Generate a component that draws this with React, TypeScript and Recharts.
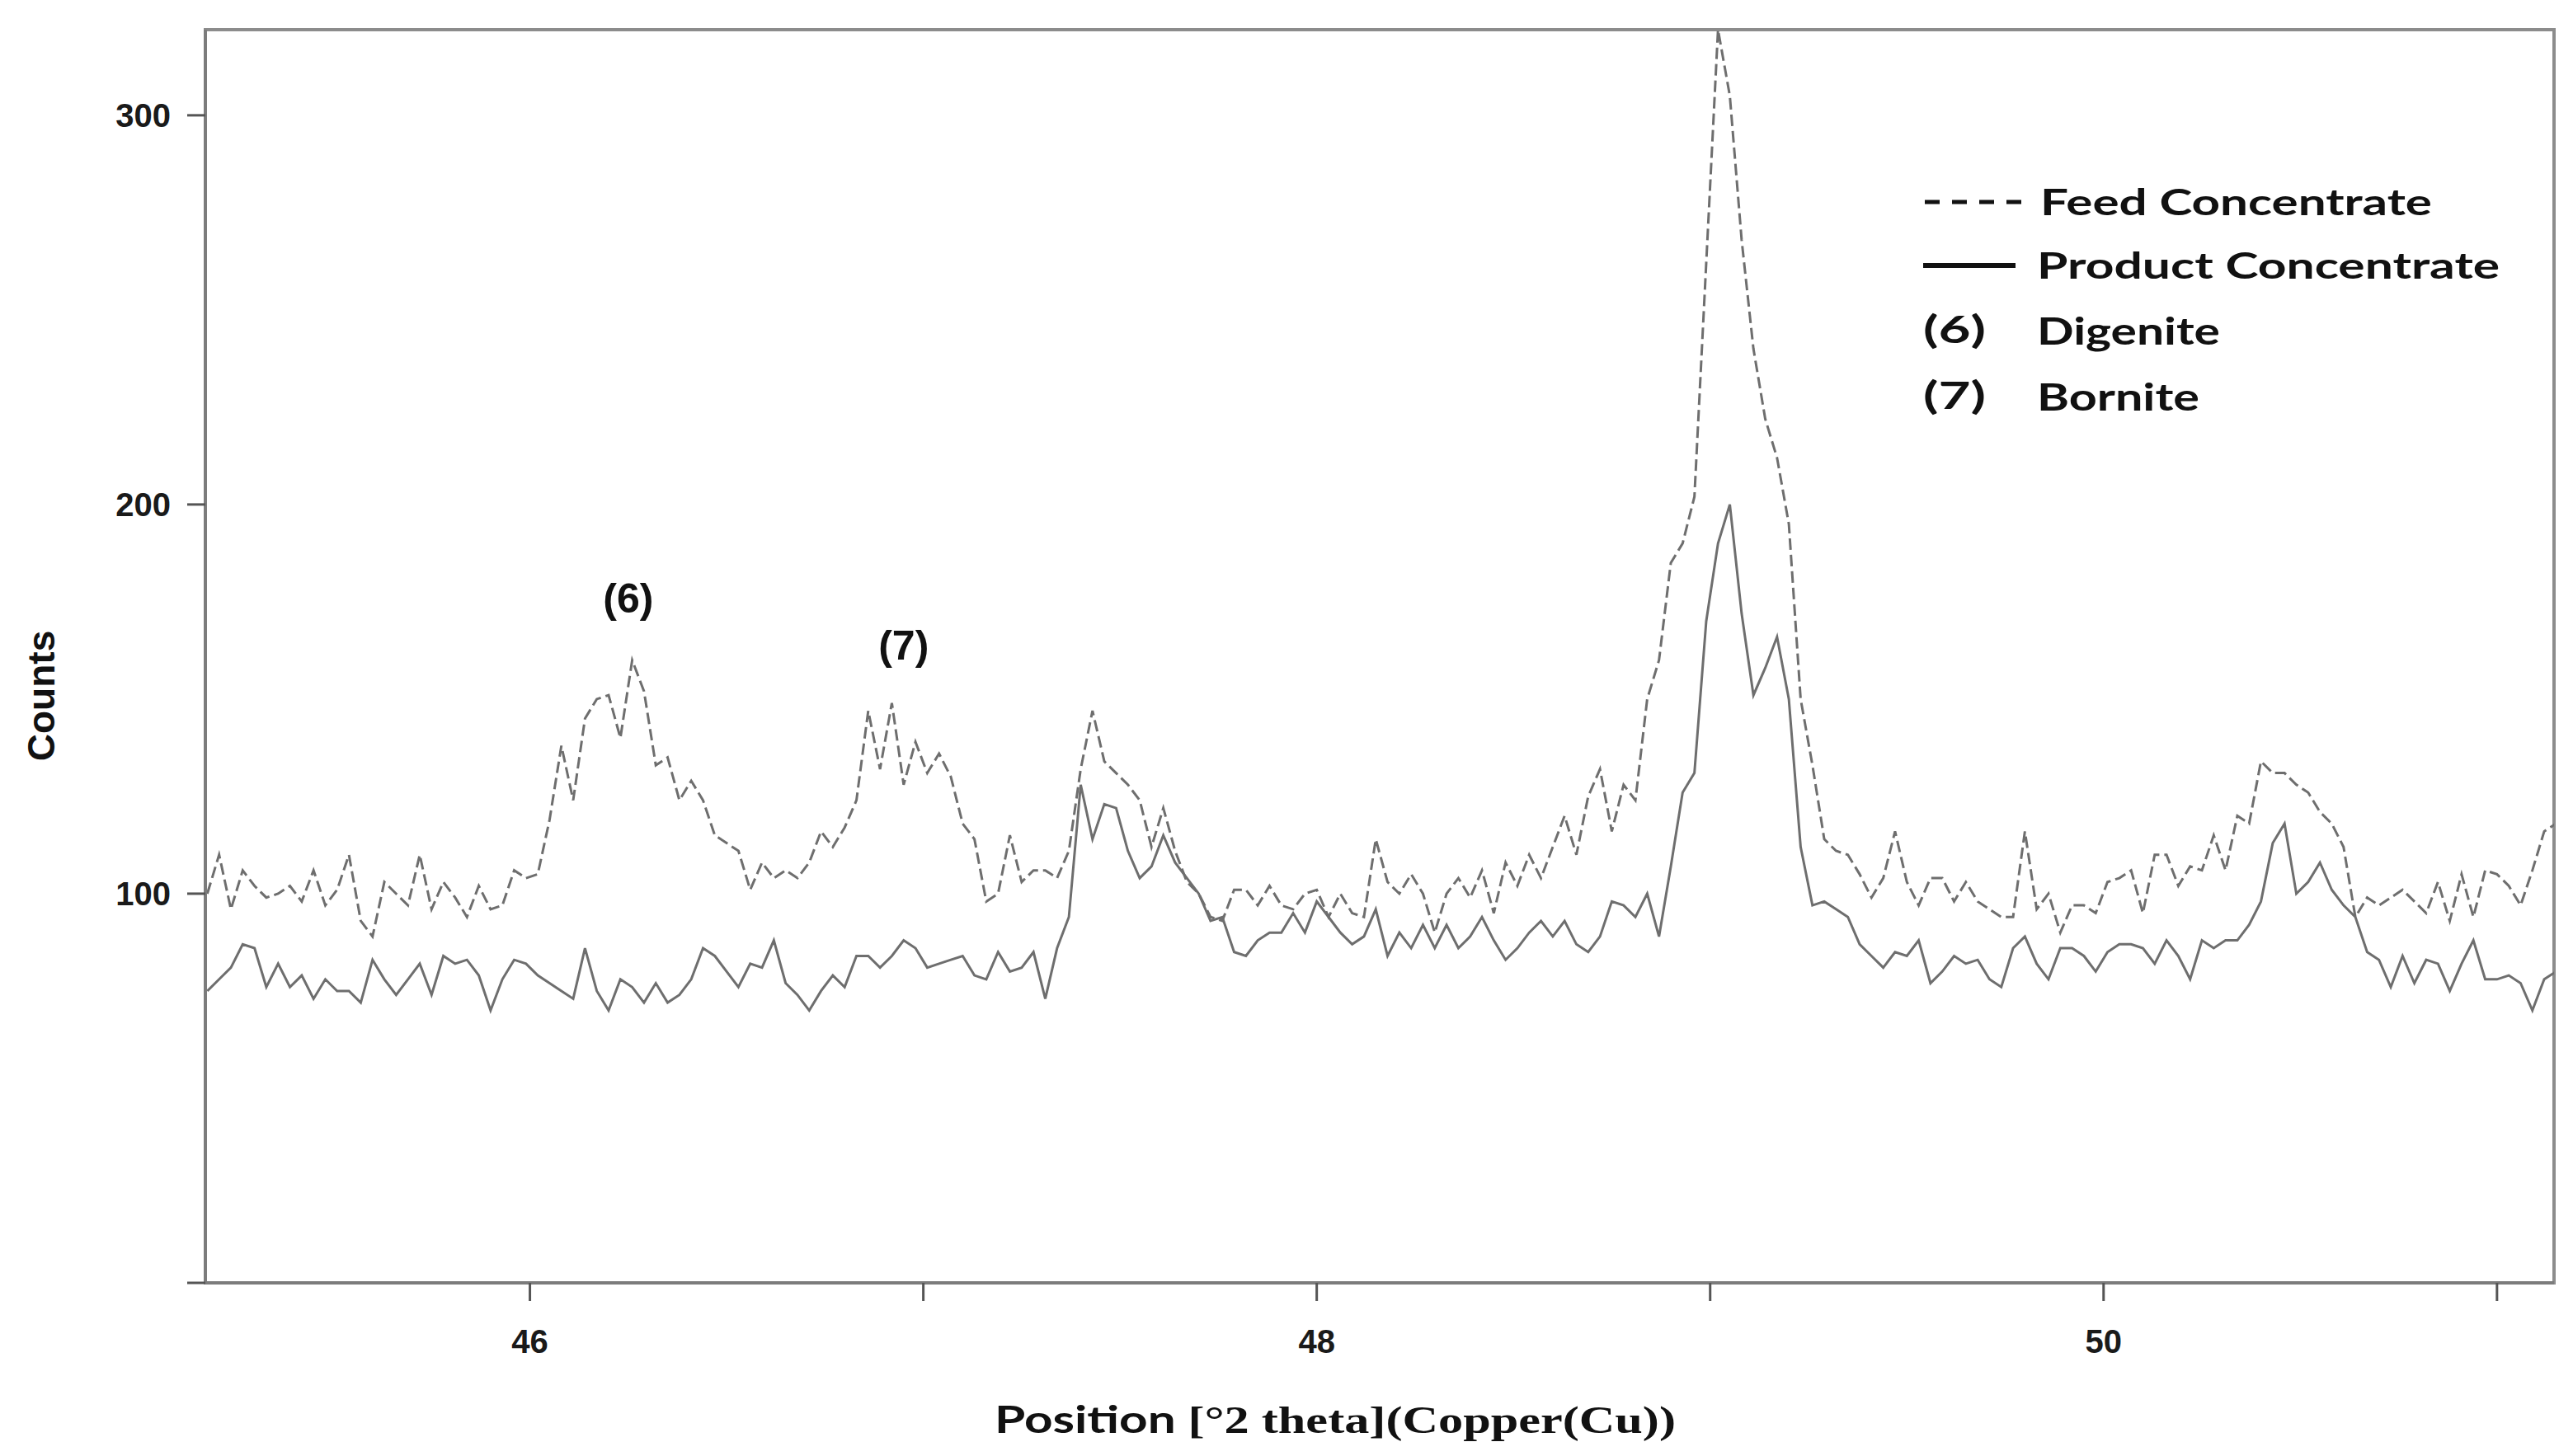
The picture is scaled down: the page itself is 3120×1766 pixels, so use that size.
import React from "react";
import {
  LineChart,
  Line,
  XAxis,
  YAxis,
  Legend,
  Label,
  ReferenceArea,
  ReferenceDot,
} from "recharts";

// scan settings: start angle and step size in degrees 2-theta
const START_ANGLE = 45.18;
const STEP = 0.03;

const feedCounts = [
  100, 110, 96, 106, 102, 99, 100, 102, 98, 106,
  97, 101, 110, 93, 89, 103, 100, 97, 110, 96,
  103, 99, 94, 102, 96, 97, 106, 104, 105, 119,
  138, 124, 145, 150, 151, 140, 160, 152, 133, 135,
  124, 129, 124, 115, 113, 111, 101, 108, 104, 106,
  104, 108, 116, 112, 117, 124, 147, 132, 149, 128,
  139, 131, 136, 130, 118, 114, 98, 100, 115, 103,
  106, 106, 104, 111, 132, 147, 134, 131, 128, 124,
  112, 122, 111, 103, 100, 94, 93, 101, 101, 97,
  102, 97, 96, 100, 101, 94, 100, 95, 94, 114,
  103, 100, 105, 100, 90, 100, 104, 99, 106, 95,
  108, 102, 110, 104, 112, 120, 110, 125, 132, 116,
  128, 124, 150, 160, 185, 190, 202, 262, 322, 305,
  268, 240, 222, 212, 195, 150, 133, 114, 111, 110,
  105, 99, 104, 116, 103, 97, 104, 104, 98, 103,
  98, 96, 94, 94, 116, 96, 100, 90, 97, 97,
  95, 103, 104, 106, 95, 110, 110, 102, 107, 106,
  115, 106, 120, 118, 134, 131, 131, 128, 126, 121,
  118, 112, 94, 99, 97, 99, 101, 98, 95, 103,
  93, 105, 94, 106, 105, 102, 97, 106, 116, 118,
];

const productCounts = [
  75, 78, 81, 87, 86, 76, 82, 76, 79, 73,
  78, 75, 75, 72, 83, 78, 74, 78, 82, 74,
  84, 82, 83, 79, 70, 78, 83, 82, 79, 77,
  75, 73, 86, 75, 70, 78, 76, 72, 77, 72,
  74, 78, 86, 84, 80, 76, 82, 81, 88, 77,
  74, 70, 75, 79, 76, 84, 84, 81, 84, 88,
  86, 81, 82, 83, 84, 79, 78, 85, 80, 81,
  85, 73, 86, 94, 128, 114, 123, 122, 111, 104,
  107, 115, 108, 104, 100, 93, 94, 85, 84, 88,
  90, 90, 95, 90, 98, 94, 90, 87, 89, 96,
  84, 90, 86, 92, 86, 92, 86, 89, 94, 88,
  83, 86, 90, 93, 89, 93, 87, 85, 89, 98,
  97, 94, 100, 89, 107, 126, 131, 170, 190, 200,
  172, 151, 158, 166, 150, 112, 97, 98, 96, 94,
  87, 84, 81, 85, 84, 88, 77, 80, 84, 82,
  83, 78, 76, 86, 89, 82, 78, 86, 86, 84,
  80, 85, 87, 87, 86, 82, 88, 84, 78, 88,
  86, 88, 88, 92, 98, 113, 118, 100, 103, 108,
  101, 97, 94, 85, 83, 76, 84, 77, 83, 82,
  75, 82, 88, 78, 78, 79, 77, 70, 78, 80,
];

const xTicks = [46, 47, 48, 49, 50, 51];
const yTicks = [0, 100, 200, 300];

const peakLabels = [
  { text: "(6)", angle: 46.25, count: 176 },
  { text: "(7)", angle: 46.95, count: 164 },
];

const phaseNotes = [
  { code: "(6)", name: "Digenite", width: 222 },
  { code: "(7)", name: "Bornite", width: 197 },
];

const rows = feedCounts.map((feed, i) => ({
  angle: Number((START_ANGLE + i * STEP).toFixed(2)),
  feed,
  product: productCounts[i],
}));

const LINE_GREY = "#6e6e6e";
const AXIS_GREY = "#7c7c7c";
const legendFont = "Lato, 'Open Sans', sans-serif";

const renderLegend = () => (
  <svg width={790} height={330}>
    <line x1={14} x2={140} y1={55} y2={55} stroke="#111" strokeWidth={5} strokeDasharray="18 15" />
    <text x={154} y={71} fontFamily={legendFont} fontWeight={700} fontSize={44} fill="#111"
      textLength={475} lengthAdjust="spacingAndGlyphs">Feed Concentrate</text>
    <line x1={12} x2={124} y1={132} y2={132} stroke="#111" strokeWidth={6} />
    <text x={150} y={148} fontFamily={legendFont} fontWeight={700} fontSize={44} fill="#111"
      textLength={561} lengthAdjust="spacingAndGlyphs">Product Concentrate</text>
    {phaseNotes.map((p, k) => (
      <g key={p.code}>
        <text x={12} y={226 + k * 80} fontFamily={legendFont} fontWeight={700} fontSize={46} fill="#111"
          textLength={76} lengthAdjust="spacingAndGlyphs">{p.code}</text>
        <text x={150} y={228 + k * 80} fontFamily={legendFont} fontWeight={700} fontSize={46} fill="#111"
          textLength={p.width} lengthAdjust="spacingAndGlyphs">{p.name}</text>
      </g>
    ))}
  </svg>
);

const tickFont = {
  fill: "#1a1a1a",
  fontSize: 40,
  fontWeight: 700,
  fontFamily: "'Liberation Sans Narrow', 'Liberation Sans', Arial, sans-serif",
};

export default function App() {
  return (
    <div style={{ position: "absolute", left: 0, top: 0, width: 3120, height: 1766, background: "#fff" }}>
      <LineChart
        width={3120}
        height={1766}
        data={rows}
        margin={{ top: 36, right: 23, bottom: 150, left: 149 }}
      >
        <ReferenceArea
          x1={45.175}
          x2={51.145}
          y1={0}
          y2={322}
          fill="none"
          stroke="#8c8c8c"
          strokeWidth={4}
        />
        <XAxis
          dataKey="angle"
          type="number"
          domain={[45.175, 51.145]}
          ticks={xTicks}
          allowDataOverflow
          height={60}
          tickSize={22}
          tickMargin={35}
          tickFormatter={(v: number) => (v % 2 === 0 ? String(v) : "")}
          tick={tickFont}
          tickLine={{ stroke: "#555", strokeWidth: 3 }}
          axisLine={{ stroke: AXIS_GREY, strokeWidth: 4 }}
        >
          <Label
            content={({ viewBox }: any) => (
              <text
                x={viewBox.x + viewBox.width / 2 - 54}
                y={1738}
                textAnchor="middle"
                fontSize={46}
                fontWeight={700}
                fill="#111"
                textLength={826}
                lengthAdjust="spacingAndGlyphs"
              >
                <tspan fontFamily="Lato, 'Open Sans', sans-serif">Position </tspan>
                <tspan fontFamily="'Liberation Serif', 'DejaVu Serif', serif">[°2 theta](Copper(Cu))</tspan>
              </text>
            )}
          />
        </XAxis>
        <YAxis
          type="number"
          domain={[0, 322]}
          ticks={yTicks}
          allowDataOverflow
          width={100}
          tickSize={22}
          tickMargin={20}
          tickFormatter={(v: number) => (v === 0 ? "" : String(v))}
          tick={tickFont}
          tickLine={{ stroke: "#555", strokeWidth: 3 }}
          axisLine={{ stroke: AXIS_GREY, strokeWidth: 4 }}
        >
          <Label
            content={({ viewBox }: any) => (
              <text
                x={viewBox.x - 99}
                y={844}
                transform={`rotate(-90 ${viewBox.x - 99} 844)`}
                textAnchor="middle"
                dominantBaseline="central"
                fontSize={46}
                fontWeight={700}
                fontFamily="'Liberation Sans', Arial, sans-serif"
                fill="#111"
              >
                Counts
              </text>
            )}
          />
        </YAxis>
        <Legend
          layout="vertical"
          align="center"
          verticalAlign="middle"
          content={renderLegend}
          wrapperStyle={{ position: "absolute", left: 2320, top: 190, width: 790, height: 330 }}
        />
        <Line
          dataKey="feed"
          name="Feed Concentrate"
          stroke={LINE_GREY}
          strokeWidth={3}
          strokeDasharray="14 6"
          dot={false}
          isAnimationActive={false}
        />
        <Line
          dataKey="product"
          name="Product Concentrate"
          stroke={LINE_GREY}
          strokeWidth={3}
          dot={false}
          isAnimationActive={false}
        />
        {peakLabels.map((p) => (
          <ReferenceDot
            key={p.text}
            x={p.angle}
            y={p.count}
            r={0}
            fill="none"
            stroke="none"
            label={{
              value: p.text,
              position: "center",
              fontSize: 50,
              fontWeight: 700,
              fontFamily: "'Liberation Sans', Arial, sans-serif",
              fill: "#111",
            }}
          />
        ))}
      </LineChart>
    </div>
  );
}
